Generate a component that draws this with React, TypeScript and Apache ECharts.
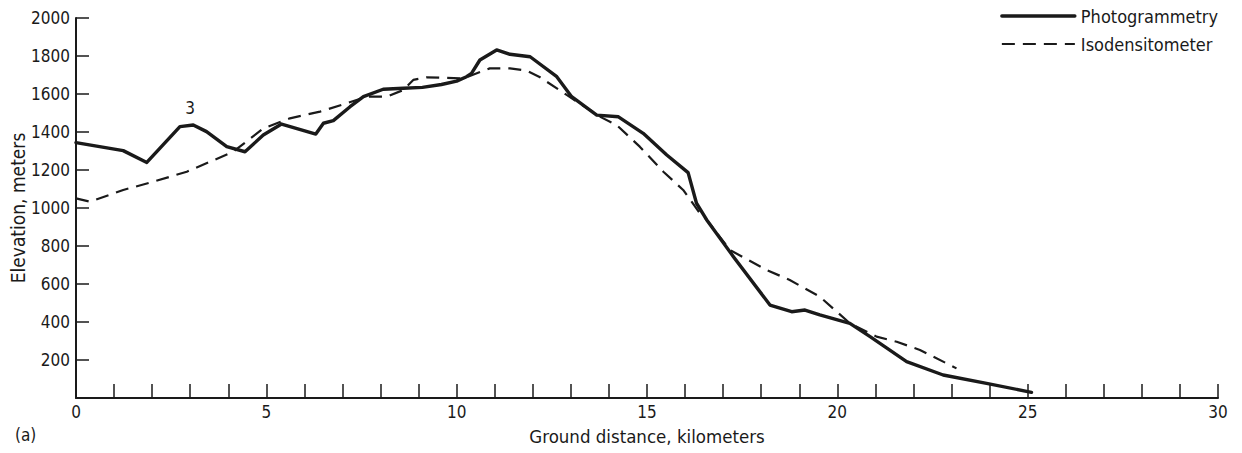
import React, { useEffect, useRef } from "react";
import * as echarts from "echarts";

const photoKm = [0, 1.24, 1.86, 2.73, 3.08, 3.43, 3.96, 4.44, 4.92, 5.4, 6.3, 6.5, 6.76, 7.2, 7.55, 8.07, 8.6, 9.1, 9.6, 10.0, 10.26, 10.39, 10.61, 11.05, 11.4, 11.93, 12.63, 13.02, 13.68, 14.25, 14.9, 15.52, 16.08, 16.3, 16.57, 17.27, 18.23, 18.8, 19.15, 19.54, 20.33, 20.86, 21.82, 22.78, 23.92, 25.1];
const photoElev = [1344, 1302, 1240, 1428, 1437, 1402, 1323, 1296, 1384, 1442, 1389, 1446, 1460, 1533, 1586, 1625, 1630, 1635, 1650, 1668, 1691, 1709, 1779, 1832, 1809, 1796, 1691, 1586, 1489, 1480, 1393, 1279, 1186, 1025, 937, 744, 489, 454, 463, 437, 393, 323, 191, 121, 77, 30];

const isoKm = [0, 0.37, 1.24, 1.94, 2.91, 4.13, 4.92, 5.62, 6.41, 7.11, 7.64, 8.16, 8.6, 8.86, 9.21, 10.18, 10.87, 11.4, 11.84, 12.19, 12.89, 13.76, 14.2, 14.81, 15.43, 15.95, 16.39, 16.57, 17.18, 18.14, 18.75, 19.54, 20.33, 21.03, 21.56, 22.17, 23.13];
const isoElev = [1051, 1033, 1095, 1133, 1191, 1296, 1419, 1472, 1507, 1551, 1586, 1586, 1621, 1674, 1688, 1682, 1735, 1735, 1723, 1688, 1595, 1481, 1437, 1323, 1191, 1095, 972, 937, 779, 674, 621, 533, 393, 323, 296, 253, 156];

const seriesNames = ["Photogrammetry", "Isodensitometer"];
const xTitle = "Ground distance, kilometers";
const yTitle = "Elevation, meters";
const annotation = { km: 3.0, elev: 1525, text: "3" };
const panelLabel = "(a)";

const FONT = "DejaVu Sans Condensed";
const INK = "#1a1a1a";

export default function App() {
  const ref = useRef<HTMLDivElement>(null);
  useEffect(() => {
    if (!ref.current) return;
    const chart = echarts.init(ref.current, undefined, { renderer: "svg" });
    chart.setOption({
      animation: false,
      backgroundColor: "#ffffff",
      textStyle: { fontFamily: FONT, color: INK },
      grid: { left: 76, right: 24, top: 18, bottom: 55, containLabel: false, outerBoundsMode: "none" },
      legend: {
        orient: "vertical",
        right: 19,
        top: 2,
        itemWidth: 73,
        itemHeight: 14,
        itemGap: 10,
        itemStyle: { opacity: 0 },
        textStyle: { fontFamily: FONT, fontSize: 18, color: INK, padding: [0, 0, 0, 1] },
        data: [
          { name: seriesNames[0], lineStyle: { width: 3.4, color: INK, type: "solid" } },
          { name: seriesNames[1], lineStyle: { width: 2.2, color: INK, type: [13, 8] } },
        ],
      },
      xAxis: {
        type: "value",
        min: 0,
        max: 30,
        interval: 1,
        name: xTitle,
        nameLocation: "middle",
        nameGap: 29,
        nameMoveOverlap: false,
        nameTextStyle: { fontFamily: FONT, fontSize: 18.5, color: INK },
        axisLine: { lineStyle: { color: INK, width: 2 } },
        axisTick: { inside: true, length: 14, lineStyle: { color: INK, width: 1.5 } },
        axisLabel: {
          margin: 5,
          fontFamily: FONT,
          fontSize: 17,
          color: INK,
          showMaxLabel: true,
          showMinLabel: true,
          formatter: (v: number) => (v % 5 === 0 ? String(v) : ""),
        },
        splitLine: { show: false },
      },
      yAxis: {
        type: "value",
        min: 0,
        max: 2000,
        interval: 200,
        name: yTitle,
        nameLocation: "middle",
        nameGap: 49,
        nameMoveOverlap: false,
        nameTextStyle: { fontFamily: FONT, fontSize: 19, color: INK },
        axisLine: { show: true, lineStyle: { color: INK, width: 2 } },
        axisTick: { show: true, inside: true, length: 13, lineStyle: { color: INK, width: 1.5 } },
        axisLabel: {
          margin: 6,
          fontFamily: FONT,
          fontSize: 17,
          color: INK,
          formatter: (v: number) => (v === 0 ? "" : String(v)),
        },
        splitLine: { show: false },
      },
      graphic: [
        {
          type: "text",
          left: 15,
          top: 426,
          style: { text: panelLabel, fontFamily: FONT, fontSize: 17, fill: INK },
        },
      ],
      series: [
        {
          name: seriesNames[0],
          type: "line",
          symbol: "none",
          data: photoKm.map((k, i) => [k, photoElev[i]]),
          lineStyle: { color: INK, width: 3.4, join: "round", cap: "round" },
          itemStyle: { color: INK },
          markPoint: {
            symbol: "circle",
            symbolSize: 0,
            data: [{ coord: [annotation.km, annotation.elev] }],
            label: {
              show: true,
              position: "inside",
              formatter: annotation.text,
              fontFamily: FONT,
              fontSize: 17,
              color: INK,
            },
          },
        },
        {
          name: seriesNames[1],
          type: "line",
          symbol: "none",
          data: isoKm.map((k, i) => [k, isoElev[i]]),
          lineStyle: { color: INK, width: 2.2, type: [13, 8] },
          itemStyle: { color: INK },
        },
      ],
    });
    return () => chart.dispose();
  }, []);
  return (
    <div
      ref={ref}
      style={{ position: "fixed", left: 0, top: 0, width: 1242, height: 453, background: "#fff" }}
    />
  );
}
